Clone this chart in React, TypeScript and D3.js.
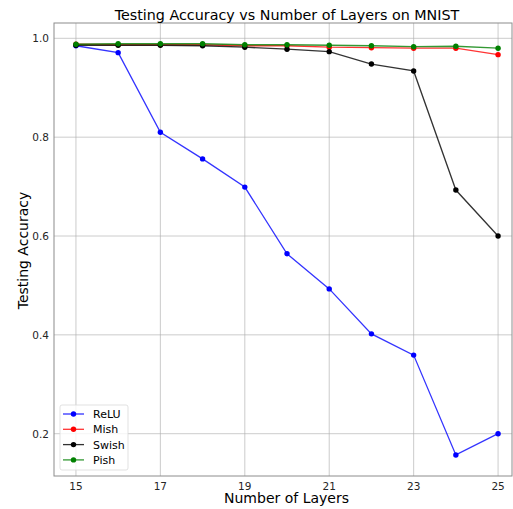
import React from "react";
import * as d3 from "d3";

const layers = [15, 16, 17, 18, 19, 20, 21, 22, 23, 24, 25];
const relu = [0.985, 0.971, 0.81, 0.756, 0.699, 0.564, 0.493, 0.402, 0.359, 0.157, 0.2];
const mish = [0.988, 0.987, 0.987, 0.987, 0.985, 0.985, 0.982, 0.981, 0.98, 0.98, 0.967];
const swish = [0.986, 0.986, 0.986, 0.985, 0.982, 0.978, 0.973, 0.948, 0.934, 0.693, 0.6];
const pish = [0.988, 0.989, 0.989, 0.989, 0.987, 0.987, 0.986, 0.985, 0.983, 0.984, 0.98];
const xTicks = [15, 17, 19, 21, 23, 25];
const yTicks = [0.2, 0.4, 0.6, 0.8, 1.0];

const series = [
  { name: "ReLU", color: "#0000ff", values: relu },
  { name: "Mish", color: "#ff0000", values: mish },
  { name: "Swish", color: "#000000", values: swish },
  { name: "Pish", color: "#008000", values: pish },
];

const W = 513, H = 509;
const L = 54, R = 512, T = 23, B = 476;
const font = "DejaVu Sans, sans-serif";

export default function App() {
  const x = d3.scaleLinear().domain([14.48, 25.33]).range([L, R]);
  const y = d3.scaleLinear().domain([0.1144, 1.031]).range([B, T]);
  const line = d3.line<number>().x((_, i) => x(layers[i])).y((d) => y(d));
  return (
    <svg width={W} height={H} style={{ position: "absolute", left: 0, top: 0 }}>
      <rect x={0} y={0} width={W} height={H} fill="#fff" />
      {xTicks.map((t) => (
        <g key={"x" + t}>
          <line x1={x(t)} x2={x(t)} y1={T} y2={B} stroke="#b0b0b0" strokeWidth={0.8} opacity={0.8} />
          <text x={x(t)} y={B + 13.5} textAnchor="middle" fontSize={10.5} fontFamily={font} fill="#262626">{t}</text>
        </g>
      ))}
      {yTicks.map((t) => (
        <g key={"y" + t}>
          <line x1={L} x2={R} y1={y(t)} y2={y(t)} stroke="#b0b0b0" strokeWidth={0.8} opacity={0.8} />
          <text x={L - 5} y={y(t) + 4} textAnchor="end" fontSize={10.5} fontFamily={font} fill="#262626">{t.toFixed(1)}</text>
        </g>
      ))}
      <rect x={L} y={T} width={R - L} height={B - T} fill="none" stroke="#8c8c8c" strokeWidth={1} />
      {series.map((s) => (
        <g key={s.name}>
          <path d={line(s.values) || ""} fill="none" stroke={s.color} strokeWidth={1.3} opacity={0.8} />
          {s.values.map((v, i) => (
            <circle key={i} cx={x(layers[i])} cy={y(v)} r={2.7} fill={s.color} />
          ))}
        </g>
      ))}
      <text x={287} y={19.5} textAnchor="middle" fontSize={14.3} fontFamily={font} fill="#000">Testing Accuracy vs Number of Layers on MNIST</text>
      <text x={286.5} y={503} textAnchor="middle" fontSize={14} fontFamily={font} fill="#000">Number of Layers</text>
      <text transform={`translate(28,${(T + B) / 2 + 1}) rotate(-90)`} textAnchor="middle" fontSize={14} fontFamily={font} fill="#000">Testing Accuracy</text>
      <g>
        <rect x={60} y={405} width={68} height={65} rx={2} fill="#fff" fillOpacity={0.8} stroke="#d9d9d9" strokeWidth={0.8} />
        {series.map((s, i) => (
          <g key={"lg" + s.name}>
            <line x1={63} x2={84} y1={414 + i * 15.3} y2={414 + i * 15.3} stroke={s.color} strokeWidth={1.3} opacity={0.8} />
            <circle cx={73.5} cy={414 + i * 15.3} r={2.7} fill={s.color} />
            <text x={93} y={418 + i * 15.3} fontSize={11} fontFamily={font} fill="#000">{s.name}</text>
          </g>
        ))}
      </g>
    </svg>
  );
}
